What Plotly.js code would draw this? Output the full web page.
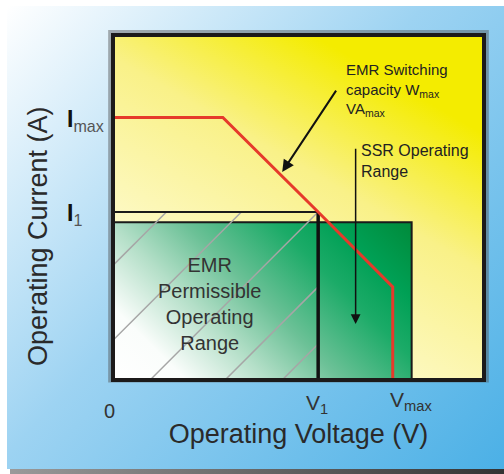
<!DOCTYPE html>
<html><head><meta charset="utf-8">
<script src="https://cdn.plot.ly/plotly-3.0.1.min.js"></script>
<style>html,body{margin:0;padding:0;background:#fff;}#chart{width:504px;height:474px;}</style>
</head><body><div id="chart"></div>
<script>
// ---- data (arbitrary units: voltage 0-100, current 0-100) ----
const envelopeV = [0, 29.6, 55.3, 75.4, 75.4];      // EMR switching capacity envelope
const envelopeI = [76.1, 76.1, 48.7, 27.0, 0];
const voltageLevels = [0, 55.3, 75.4];               // 0, V1, Vmax
const voltageLabels = ['0', 'V<sub>1</sub>', 'V<sub>max</sub>'];
const currentLevels = [76.1, 48.7];                  // Imax, I1
const currentLabels = ['<b>I</b><sub><span style="color:#555">max</span></sub>', '<b>I</b><sub><span style="color:#555">1</span></sub>'];
const emrBoxV = [0, 55.3];                           // EMR permissible range (V)
const emrBoxI = [0, 48.7];                           // EMR permissible range (A)
const ssrBoxV = [0, 80.5];                           // SSR operating range (V)
const ssrBoxI = [0, 45.7];                           // SSR operating range (A)
const hatchStarts = [-30.9, -10.7, 10.0, 30.2, 45.6];// hatch line intercepts on the V axis

const FONT = 'Liberation Sans, Arial, Helvetica, sans-serif';
const W = 504, H = 474, ML = 113, MR = 20, MT = 35, MB = 94;
const PW = W - ML - MR, PH = H - MT - MB;
const slope = (PW / 100) / (PH / 100); // 45 degree hatch in screen space

function svgURI(s){ return 'data:image/svg+xml;charset=utf-8,' + encodeURIComponent(s); }

const bgSvg = `<svg xmlns='http://www.w3.org/2000/svg' width='${W}' height='${H}' viewBox='0 0 ${W} ${H}' preserveAspectRatio='none'>
<defs><linearGradient id='b' gradientUnits='userSpaceOnUse' x1='7' y1='6' x2='504' y2='469'>
<stop offset='0' stop-color='#ffffff'/><stop offset='0.45' stop-color='#9dd3f2'/><stop offset='1' stop-color='#4bb0e6'/></linearGradient>
<linearGradient id='s' x1='0' y1='0' x2='1' y2='0'><stop offset='0' stop-color='#9a9a9a'/><stop offset='1' stop-color='#333333'/></linearGradient></defs>
<rect x='0' y='0' width='${W}' height='${H}' fill='#ffffff'/>
<rect x='7' y='6' width='497' height='463' fill='url(#b)'/>
<rect x='10' y='469' width='494' height='5' fill='url(#s)'/></svg>`;

const yellowSvg = `<svg xmlns='http://www.w3.org/2000/svg' width='371' height='345' viewBox='0 0 371 345' preserveAspectRatio='none'>
<defs><linearGradient id='y' gradientUnits='userSpaceOnUse' x1='0' y1='345' x2='200' y2='0'>
<stop offset='0' stop-color='#fffef2'/><stop offset='0.35' stop-color='#fdf9c4'/><stop offset='0.7' stop-color='#f9f188'/><stop offset='1' stop-color='#f4ec00'/></linearGradient></defs>
<rect width='371' height='345' fill='url(#y)'/></svg>`;

const greenSvg = `<svg xmlns='http://www.w3.org/2000/svg' width='298' height='158' viewBox='0 0 298 158' preserveAspectRatio='none'>
<defs><linearGradient id='g' gradientUnits='userSpaceOnUse' x1='0' y1='158' x2='228' y2='-70'>
<stop offset='0' stop-color='#ffffff'/><stop offset='0.16' stop-color='#fafdfb'/><stop offset='0.34' stop-color='#b4dfc8'/><stop offset='0.5' stop-color='#6cc197'/><stop offset='0.7' stop-color='#1cab68'/><stop offset='0.83' stop-color='#00a055'/><stop offset='1' stop-color='#008a3a'/></linearGradient></defs>
<rect width='298' height='158' fill='url(#g)'/></svg>`;

// hatch segments clipped to the EMR permissible box
const hx = [], hy = [];
hatchStarts.forEach(x0 => {
  const xa = Math.max(emrBoxV[0], x0), xb = Math.min(emrBoxV[1], x0 + emrBoxI[1] / slope);
  hx.push(xa, xb, null); hy.push(slope * (xa - x0), slope * (xb - x0), null);
});

const line = (x, y, color, width) => ({type:'scatter', mode:'lines', x, y, line:{color, width}, hoverinfo:'skip', showlegend:false});

const traces = [
  line([ssrBoxV[0], ssrBoxV[1], ssrBoxV[1], ssrBoxV[0], ssrBoxV[0]], [ssrBoxI[0], ssrBoxI[0], ssrBoxI[1], ssrBoxI[1], ssrBoxI[0]], '#1a1a1a', 2),
  line(hx, hy, '#a6a6a6', 1.5),
  line([emrBoxV[0], emrBoxV[1]], [emrBoxI[1], emrBoxI[1]], '#1a1a1a', 2),
  line([emrBoxV[1], emrBoxV[1]], [emrBoxI[1], emrBoxI[0]], '#111111', 3.5),
  line(envelopeV, envelopeI, '#e63a2b', 3)
];

const ann = [];
const xShift = [-4, -14, -5], yShiftX = [-18, -9, -6], xAnch = ['center', 'left', 'left'], xSize = [20, 21, 21];
voltageLevels.forEach((v, i) => ann.push({xref:'x', yref:'paper', x:v, y:0, text:voltageLabels[i], showarrow:false,
  xanchor:xAnch[i], yanchor:'top', xshift:xShift[i], yshift:yShiftX[i], font:{family:FONT, size:xSize[i], color:'#333'}}));
const yShiftI = [-3, -3];
currentLevels.forEach((c, i) => ann.push({xref:'paper', yref:'y', x:0, y:c, text:currentLabels[i], showarrow:false,
  xanchor:'left', yanchor:'middle', xshift:-48, yshift:yShiftI[i], font:{family:FONT, size:23, color:'#111'}}));

ann.push({xref:'paper', yref:'paper', x:(38 - ML) / PW, y:(H - MB - 236) / PH, text:'Operating Current (A)', textangle:-90,
  showarrow:false, xanchor:'center', yanchor:'middle', font:{family:FONT, size:27, color:'#2a2a2a'}});

ann.push({xref:'x', yref:'y', x:62.5, y:93.0, text:'EMR Switching<br>capacity W<sub>max</sub><br>VA<sub>max</sub>', showarrow:false,
  xanchor:'left', yanchor:'top', align:'left', xshift:-1, font:{family:FONT, size:15, color:'#222'}});
ann.push({xref:'x', yref:'y', x:66.5, y:69.6, text:'SSR Operating<br>Range', showarrow:false,
  xanchor:'left', yanchor:'top', align:'left', xshift:-1, font:{family:FONT, size:16, color:'#222'}});
ann.push({xref:'x', yref:'y', x:26.1, y:22.0, text:'EMR<br>Permissible<br>Operating<br>Range', showarrow:false,
  xanchor:'center', yanchor:'middle', font:{family:FONT, size:20, color:'#333'}});

ann.push({xref:'x', yref:'y', axref:'x', ayref:'y', x:45.6, y:60.3, ax:60.4, ay:84.3, text:'', showarrow:true,
  arrowhead:2, arrowsize:1.2, arrowwidth:2, arrowcolor:'#111'});
ann.push({xref:'x', yref:'y', axref:'x', ayref:'y', x:65.4, y:16.2, ax:65.4, ay:67.5, text:'', showarrow:true,
  arrowhead:2, arrowsize:1.3, arrowwidth:1.5, arrowcolor:'#111'});

const layout = {
  width:W, height:H, margin:{l:ML, r:MR, t:MT, b:MB}, paper_bgcolor:'#ffffff', plot_bgcolor:'rgba(0,0,0,0)',
  showlegend:false, font:{family:FONT},
  xaxis:{range:[0,100], showgrid:false, zeroline:false, showline:false, showticklabels:false, ticks:'', fixedrange:true,
    title:{text:'Operating Voltage (V)', font:{family:FONT, size:27, color:'#2a2a2a'}, standoff:44}},
  yaxis:{range:[0,100], showgrid:false, zeroline:false, showline:false, showticklabels:false, ticks:'', fixedrange:true},
  images:[
    {source:svgURI(bgSvg), xref:'paper', yref:'paper', x:-ML/PW, y:(H-MB)/PH, sizex:W/PW, sizey:H/PH, xanchor:'left', yanchor:'top', sizing:'stretch', layer:'below'},
    {source:svgURI(yellowSvg), xref:'x', yref:'y', x:0, y:100, sizex:100, sizey:100, xanchor:'left', yanchor:'top', sizing:'stretch', layer:'below'},
    {source:svgURI(greenSvg), xref:'x', yref:'y', x:ssrBoxV[0], y:ssrBoxI[1], sizex:ssrBoxV[1]-ssrBoxV[0], sizey:ssrBoxI[1]-ssrBoxI[0], xanchor:'left', yanchor:'top', sizing:'stretch', layer:'below'}
  ],
  shapes:[
    {type:'rect', xref:'paper', yref:'paper', x0:-0.009, x1:1.009, y0:-0.003, y1:1.01, line:{color:'rgba(80,80,80,0.45)', width:3}, layer:'above'},
    {type:'rect', xref:'paper', yref:'paper', x0:0, x1:1, y0:0, y1:1, line:{color:'#1c1a1a', width:4}, layer:'above'}
  ],
  annotations:ann
};

Plotly.newPlot('chart', traces, layout, {staticPlot:true, displayModeBar:false});
</script></body></html>
